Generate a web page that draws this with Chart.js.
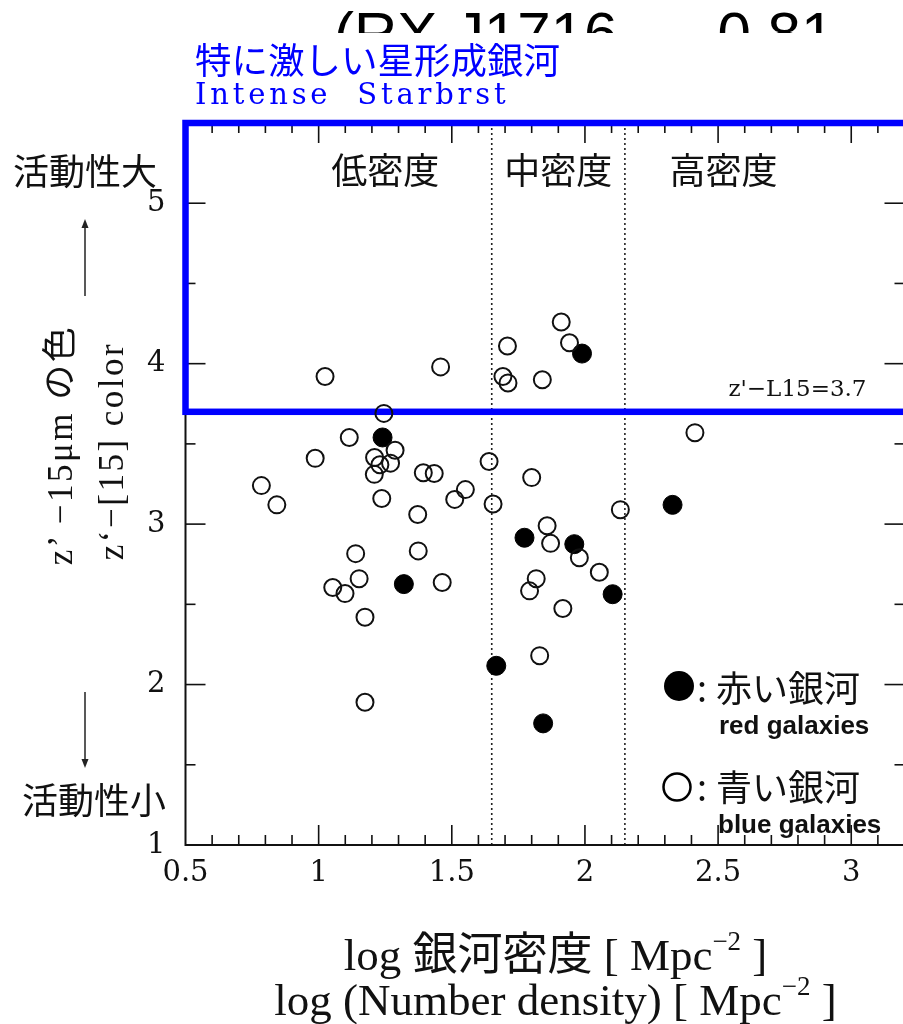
<!DOCTYPE html>
<html lang="ja">
<head>
<meta charset="utf-8">
<script src="https://cdn.jsdelivr.net/npm/chart.js@4.4.1/dist/chart.umd.min.js"></script>
<style>
  html, body { margin: 0; padding: 0; background: #fff; }
  body { width: 903px; height: 1024px; overflow: hidden; position: relative; }
  #chart { position: absolute; left: 0; top: 0; }
  .t { position: absolute; white-space: pre; color: #111; }
  #cluster { position: absolute; left: 0; top: 0; width: 903px; height: 33px; overflow: hidden; }
  #cluster span { position: absolute; left: 334px; top: 4px; font: 60px/60px "Liberation Sans", Arial, sans-serif; color: #000; white-space: pre; }
  .blue { color: #0000ff; }
  .jp { font-family: "Noto Sans CJK JP", sans-serif; }
  .serif { font-family: "Liberation Serif", "Noto Sans CJK JP", serif; }
  .ytitle { transform: translate(-50%, -50%) rotate(-90deg); font-size: 35px; line-height: 35px; letter-spacing: 2.5px; }
  .xtitle { width: 903px; left: 0; text-align: center; font-size: 45px; line-height: 45px; }
  .xtitle span { display: inline-block; transform: translateX(104px); }
  sup { font-size: 0.6em; vertical-align: 0.75em; line-height: 0; }
</style>
</head>
<body>
<canvas id="chart" width="915" height="1024"></canvas>

<div id="cluster"><span>(RX J1716  –  0.81</span></div>
<div class="t blue jp" style="left:195px; top:41px; font-size:36.5px; line-height:36px;">特に激しい星形成銀河</div>
<div class="t blue" style="left:195px; top:80px; font-family:'DejaVu Serif', serif; font-size:29px; line-height:29px; letter-spacing:3.8px;">Intense  Starbrst</div>

<div class="t jp" style="left:13px; top:151px; font-size:36px; line-height:36px;">活動性大</div>
<div class="t jp" style="left:22px; top:780px; font-size:36px; line-height:36px;">活動性小</div>

<div class="t serif ytitle" style="left:60px; top:445px;">z’ −15μm の色</div>
<div class="t serif ytitle" style="left:111px; top:451px;">z‘−[15] color</div>

<div class="t serif xtitle" style="top:933px;"><span>log 銀河密度 [ Mpc<sup>−2</sup> ]</span></div>
<div class="t serif xtitle" style="top:978px;"><span>log (Number density) [ Mpc<sup>−2</sup> ]</span></div>

<script>
// log galaxy density vs z'-[15] colour, split into blue and red galaxies
const blueDensity = [1.024, 1.458, 1.911, 1.709, 1.942, 1.692, 1.711, 1.840, 1.245, 1.115,
                     1.287, 0.987, 1.210, 1.230, 1.270, 1.209, 1.393, 1.434, 0.785, 0.843,
                     1.640, 1.800, 1.551, 1.511, 1.237, 1.655, 1.372, 1.139, 1.374, 1.152,
                     1.464, 1.053, 1.099, 1.174, 1.830, 1.817, 1.792, 1.174, 2.413, 2.133,
                     1.858, 1.871, 1.979, 2.054, 1.917];
const blueColour  = [3.92, 3.98, 4.26, 4.11, 4.13, 3.92, 3.88, 3.90, 3.69, 3.54,
                     3.46, 3.41, 3.415, 3.37, 3.38, 3.31, 3.32, 3.315, 3.24, 3.12,
                     3.39, 3.29, 3.215, 3.154, 3.16, 3.125, 3.06, 2.816, 2.833, 2.66,
                     2.636, 2.605, 2.567, 2.42, 2.18, 2.66, 2.584, 1.89, 3.57, 3.09,
                     2.99, 2.88, 2.79, 2.70, 2.474];
const redDensity  = [1.989, 1.240, 1.773, 1.320, 1.667, 1.843, 2.329, 1.960, 2.104];
const redColour   = [4.063, 3.54, 2.915, 2.626, 2.117, 1.758, 3.12, 2.875, 2.563];

const xTickLabels = ['0.5', '1', '1.5', '2', '2.5', '3'];
const yTickLabels = ['1', '2', '3', '4', '5'];

const densityBounds = [1.65, 2.15];          // low | mid | high
const regionNames = ['低密度', '中密度', '高密度'];
const regionCentres = [1.25, 1.9, 2.52];
const starburstCut = 3.7;

const toPoints = (xs, ys) => xs.map((x, i) => ({ x: x, y: ys[i] }));

function line(ctx, x1, y1, x2, y2) {
  ctx.beginPath();
  ctx.moveTo(x1, y1);
  ctx.lineTo(x2, y2);
  ctx.stroke();
}

function arrow(ctx, x, from, to) {
  const dir = Math.sign(to - from);
  line(ctx, x, from, x, to);
  ctx.beginPath();
  ctx.moveTo(x, to + dir * 3);
  ctx.lineTo(x - 3.5, to - dir * 6);
  ctx.lineTo(x + 3.5, to - dir * 6);
  ctx.closePath();
  ctx.fill();
}

const decorations = {
  id: 'decorations',
  beforeDatasetsDraw(chart) {
    const { ctx, chartArea: a, scales: { x, y } } = chart;
    ctx.save();

    // dotted density boundaries
    ctx.strokeStyle = '#222';
    ctx.lineWidth = 1.6;
    ctx.setLineDash([2, 3]);
    densityBounds.forEach(v => {
      const px = x.getPixelForValue(v);
      line(ctx, px, a.top, px, a.bottom);
    });
    ctx.setLineDash([]);

    // frame
    ctx.strokeStyle = '#111';
    ctx.lineWidth = 2;
    ctx.strokeRect(a.left, a.top, a.right - a.left, a.bottom - a.top);

    // inward ticks, minor every 0.1 in x and 0.5 in y
    ctx.lineWidth = 1.6;
    for (let i = 6; i < 32; i++) {
      const px = x.getPixelForValue(i / 10);
      const len = i % 5 === 0 ? 20 : 10;
      line(ctx, px, a.bottom, px, a.bottom - len);
      line(ctx, px, a.top, px, a.top + len);
    }
    for (let i = 3; i < 11; i++) {
      const py = y.getPixelForValue(i / 2);
      const len = i % 2 === 0 ? 20 : 10;
      line(ctx, a.left, py, a.left + len, py);
      line(ctx, a.right, py, a.right - len, py);
    }

    // starburst region box
    const yc = y.getPixelForValue(starburstCut);
    ctx.strokeStyle = '#0000ff';
    ctx.lineWidth = 6.5;
    ctx.strokeRect(a.left, a.top, a.right - a.left + 20, yc - a.top);

    ctx.restore();
  },
  afterDatasetsDraw(chart) {
    const { ctx, chartArea: a, scales: { x, y } } = chart;
    ctx.save();
    ctx.fillStyle = '#111';
    ctx.textBaseline = 'middle';

    // region names
    ctx.font = '36px "Noto Sans CJK JP"';
    ctx.textAlign = 'center';
    regionNames.forEach((name, i) => {
      ctx.fillText(name, x.getPixelForValue(regionCentres[i]), 170);
    });

    // cut label
    ctx.font = '23px "DejaVu Serif"';
    ctx.textAlign = 'right';
    ctx.fillText("z'−L15=" + starburstCut, a.right - 38, y.getPixelForValue(starburstCut) - 22);

    // legend
    ctx.textAlign = 'left';
    ctx.fillStyle = '#000';
    ctx.beginPath();
    ctx.arc(679, 686, 15, 0, Math.PI * 2);
    ctx.fill();
    ctx.strokeStyle = '#000';
    ctx.lineWidth = 2.5;
    ctx.beginPath();
    ctx.arc(677, 787, 13.5, 0, Math.PI * 2);
    ctx.stroke();

    ctx.fillStyle = '#111';
    ctx.font = '36px "Noto Sans CJK JP"';
    ctx.fillText(':', 697, 688);
    ctx.fillText('赤い銀河', 716, 688);
    ctx.fillText(':', 697, 787);
    ctx.fillText('青い銀河', 716, 787);
    ctx.font = 'bold 26px "Liberation Sans"';
    ctx.fillText('red galaxies', 719, 727);
    ctx.fillText('blue galaxies', 718, 826);

    // activity arrows
    ctx.strokeStyle = '#222';
    ctx.fillStyle = '#222';
    ctx.lineWidth = 1.5;
    arrow(ctx, 85, 296, 222);
    arrow(ctx, 85, 692, 765);

    ctx.restore();
  }
};

const chart = new Chart(document.getElementById('chart'), {
  type: 'scatter',
  data: {
    datasets: [
      {
        label: '青い銀河',
        data: toPoints(blueDensity, blueColour),
        pointRadius: 8.5,
        borderWidth: 2,
        borderColor: '#111',
        backgroundColor: 'rgba(0,0,0,0)'
      },
      {
        label: '赤い銀河',
        data: toPoints(redDensity, redColour),
        pointRadius: 9.5,
        borderWidth: 1,
        borderColor: '#000',
        backgroundColor: '#000'
      }
    ]
  },
  options: {
    responsive: false,
    animation: false,
    layout: { padding: { top: 123, right: 0, left: 0, bottom: 0 } },
    plugins: { legend: { display: false }, tooltip: { enabled: false } },
    scales: {
      x: {
        type: 'linear',
        min: 0.5,
        max: 3.2,
        afterFit: (scale) => { scale.height = 179; },
        afterBuildTicks: (scale) => { scale.ticks = xTickLabels.map(v => ({ value: Number(v) })); },
        grid: { display: false, drawTicks: false },
        border: { display: false },
        ticks: {
          autoSkip: false,
          maxRotation: 0,
          padding: 11,
          color: '#111',
          font: { family: 'DejaVu Serif', size: 29 },
          callback: (v) => String(v)
        }
      },
      y: {
        type: 'linear',
        min: 1,
        max: 5.5,
        afterFit: (scale) => { scale.width = 185.5; },
        afterBuildTicks: (scale) => { scale.ticks = yTickLabels.map(v => ({ value: Number(v) })); },
        grid: { display: false, drawTicks: false },
        border: { display: false },
        ticks: {
          autoSkip: false,
          padding: 20,
          color: '#111',
          font: { family: 'DejaVu Serif', size: 29 },
          callback: (v) => String(v)
        }
      }
    }
  },
  plugins: [decorations]
});
</script>
</body>
</html>
